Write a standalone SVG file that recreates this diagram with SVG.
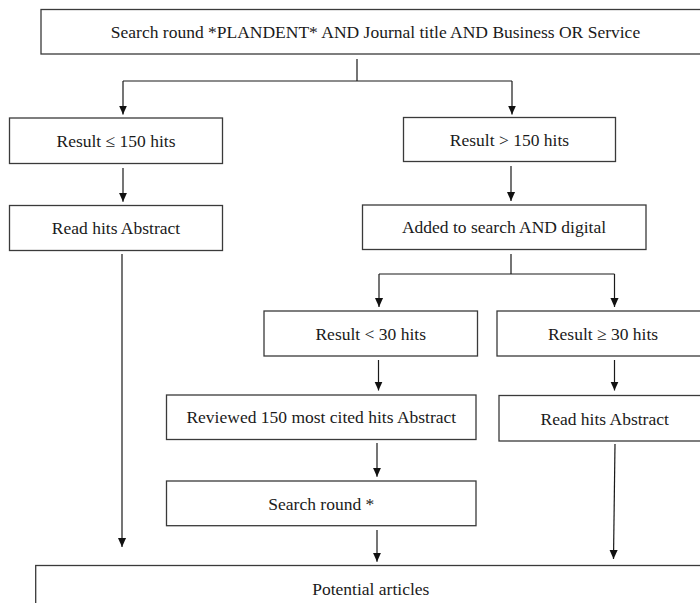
<svg xmlns="http://www.w3.org/2000/svg" width="700" height="603" viewBox="0 0 700 603">
  <style>
    .box { fill: #ffffff; stroke: #3a3a3a; stroke-width: 1.3; }
    .lbl { font-family: "Liberation Serif", "Times New Roman", serif; font-size: 17.5px; fill: #1a1a1a; text-anchor: middle; }
    .wire { fill: none; stroke: #1a1a1a; stroke-width: 1.2; }
    .arrow { marker-end: url(#head); }
  </style>
  <defs>
    <marker id="head" viewBox="0 0 10 10" refX="10" refY="5" markerUnits="userSpaceOnUse" markerWidth="9" markerHeight="9" orient="auto">
      <path d="M0,0.5 L10,5 L0,9.5 Z" fill="#111111"/>
    </marker>
  </defs>

  <rect width="700" height="603" fill="#ffffff"/>

  <g id="search-start">
    <rect class="box" x="41" y="9.5" width="669" height="44.5"/>
    <text class="lbl" x="375.5" y="37.5">Search round *PLANDENT* AND Journal title AND Business OR Service</text>
  </g>

  <g id="result-le-150">
    <rect class="box" x="9.5" y="118" width="213" height="45.5"/>
    <text class="lbl" x="116" y="147">Result ≤ 150 hits</text>
  </g>

  <g id="read-abstract-left">
    <rect class="box" x="9.5" y="205.5" width="213" height="45"/>
    <text class="lbl" x="116" y="234">Read hits Abstract</text>
  </g>

  <g id="result-gt-150">
    <rect class="box" x="403.5" y="117.5" width="212" height="44"/>
    <text class="lbl" x="509.5" y="146">Result &gt; 150 hits</text>
  </g>

  <g id="added-digital">
    <rect class="box" x="362.5" y="205" width="283.5" height="44.5"/>
    <text class="lbl" x="504" y="233">Added to search AND digital</text>
  </g>

  <g id="result-lt-30">
    <rect class="box" x="264" y="311" width="213.5" height="45"/>
    <text class="lbl" x="370.7" y="339.5">Result &lt; 30 hits</text>
  </g>

  <g id="result-ge-30">
    <rect class="box" x="497" y="311" width="213" height="45"/>
    <text class="lbl" x="603" y="339.5">Result ≥ 30 hits</text>
  </g>

  <g id="reviewed-150">
    <rect class="box" x="166.5" y="395" width="309.5" height="44.5"/>
    <text class="lbl" x="321.3" y="423">Reviewed 150 most cited hits Abstract</text>
  </g>

  <g id="read-abstract-right">
    <rect class="box" x="499" y="395.5" width="211" height="45.5"/>
    <text class="lbl" x="604.7" y="425">Read hits Abstract</text>
  </g>

  <g id="search-round">
    <rect class="box" x="166.5" y="481" width="309.5" height="44.7"/>
    <text class="lbl" x="321.3" y="509.5">Search round *</text>
  </g>

  <g id="potential-articles">
    <rect class="box" x="35.7" y="565.5" width="670.3" height="60"/>
    <text class="lbl" x="370.8" y="595">Potential articles</text>
  </g>

  <g id="connectors">
    <!-- first split -->
    <path class="wire" d="M357,59 V81 M123,81 H512"/>
    <path class="wire arrow" d="M123,81 V114.5"/>
    <path class="wire arrow" d="M512,81 V114.5"/>
    <!-- left branch -->
    <path class="wire arrow" d="M123,168 V201.7"/>
    <path class="wire arrow" d="M122,254 V547"/>
    <!-- right branch -->
    <path class="wire arrow" d="M511,166 V201"/>
    <path class="wire" d="M511,254 V274 M379,274 H614.5"/>
    <path class="wire arrow" d="M379,274 V307"/>
    <path class="wire arrow" d="M614.5,274 V307"/>
    <path class="wire arrow" d="M378.5,360 V390.5"/>
    <path class="wire arrow" d="M614.5,360 V390.5"/>
    <path class="wire arrow" d="M377,443 V476.7"/>
    <path class="wire arrow" d="M377,530 V561.7"/>
    <path class="wire arrow" d="M615,444 L613.5,559"/>
  </g>
</svg>
